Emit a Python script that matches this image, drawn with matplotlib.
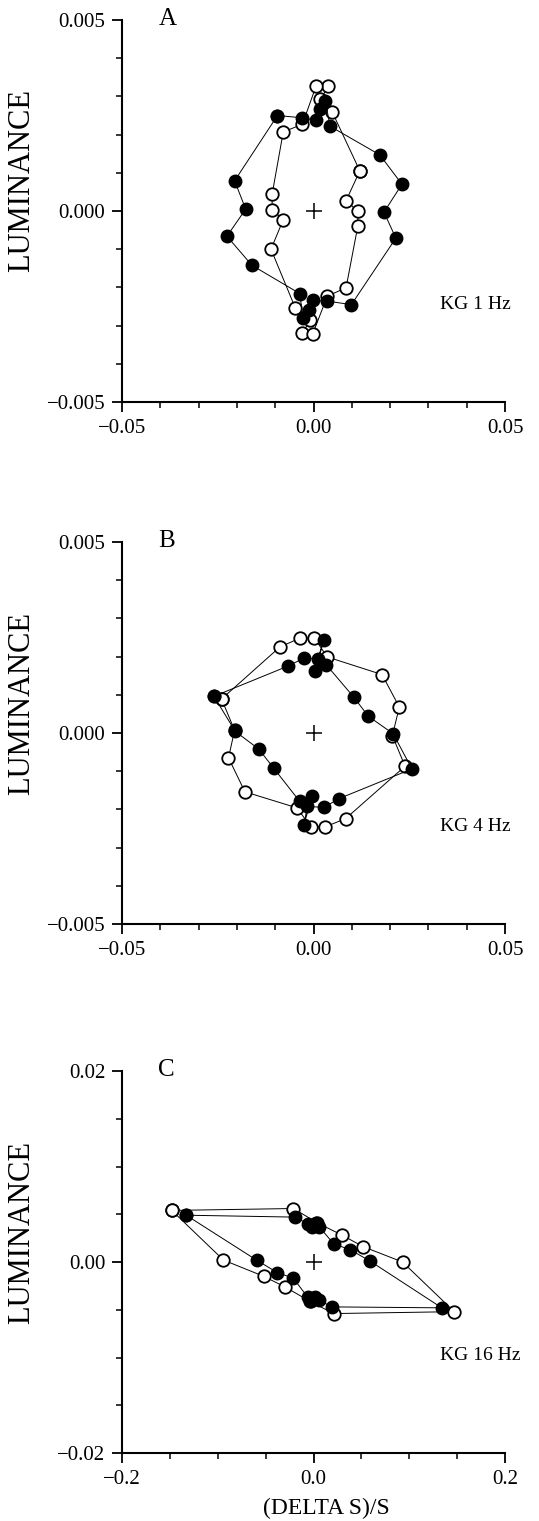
import numpy as np
import matplotlib
matplotlib.use("Agg")
import matplotlib.pyplot as plt
from matplotlib.ticker import MultipleLocator, FuncFormatter

plt.rcParams['font.family'] = ['Liberation Serif', 'DejaVu Serif']

# panel A, 1 Hz: filled and open loops, (delta S)/S vs luminance
a_filled_x = [-0.0094, -0.0030, 0.0006, 0.0018, 0.0031, 0.0043, 0.0173, 0.0231, 0.0184, 0.0215,
              0.0099, 0.0036, -0.0002, -0.0013, -0.0027, -0.0036, -0.0161, -0.0226, -0.0177, -0.0206]
a_filled_y = [0.00250, 0.00244, 0.00238, 0.00266, 0.00289, 0.00222, 0.00147, 0.00070, -0.00003, -0.00071,
              -0.00245, -0.00236, -0.00234, -0.00260, -0.00281, -0.00216, -0.00142, -0.00066, 0.00005, 0.00079]
a_open_x = [0.0121, 0.0049, 0.0018, 0.0038, 0.0007, -0.0029, -0.0079, -0.0108, -0.0108, -0.0079,
            -0.0111, -0.0047, -0.0009, -0.0029, -0.0002, 0.0036, 0.0085, 0.0116, 0.0116, 0.0085]
a_open_y = [0.00105, 0.00259, 0.00292, 0.00326, 0.00328, 0.00227, 0.00207, 0.00044, 0.00003, -0.00023,
            -0.00100, -0.00255, -0.00286, -0.00320, -0.00322, -0.00223, -0.00201, -0.00038, -0.00001, 0.00027]

# panel B, 4 Hz
b_filled_x = [-0.0260, -0.0067, -0.0025, 0.0011, 0.0027, 0.0004, 0.0033, 0.0105, 0.0143, 0.0208,
              0.0257, 0.0066, 0.0027, -0.0016, -0.0025, -0.0003, -0.0036, -0.0104, -0.0143, -0.0204]
b_filled_y = [0.00096, 0.00175, 0.00196, 0.00194, 0.00243, 0.00161, 0.00179, 0.00094, 0.00044, -0.00002,
              -0.00094, -0.00172, -0.00195, -0.00192, -0.00240, -0.00164, -0.00179, -0.00092, -0.00042, 0.00004]
b_open_x = [-0.0240, -0.0088, -0.0034, 0.0002, 0.0036, 0.0179, 0.0224, 0.0206,
            0.0239, 0.0084, 0.0030, -0.0007, -0.0043, -0.0179, -0.0222, -0.0206]
b_open_y = [0.00089, 0.00225, 0.00249, 0.00249, 0.00199, 0.00153, 0.00068, -0.00007,
            -0.00087, -0.00224, -0.00246, -0.00246, -0.00196, -0.00154, -0.00065, 0.00007]

# panel C, 16 Hz
c_filled_x = [-0.133, -0.019, -0.006, -0.002, 0.003, 0.006, 0.021, 0.038, 0.059,
              0.134, 0.019, 0.006, 0.002, -0.003, -0.006, -0.021, -0.038, -0.0595]
c_filled_y = [0.0049, 0.0047, 0.0040, 0.0037, 0.0041, 0.0037, 0.0019, 0.0013, 0.0001,
              -0.0048, -0.0047, -0.0040, -0.0037, -0.0041, -0.0037, -0.0017, -0.0011, 0.0002]
c_open_x = [-0.148, -0.021, 0.004, 0.030, 0.052, 0.093,
            0.147, 0.021, -0.004, -0.030, -0.052, -0.094]
c_open_y = [0.0054, 0.0056, 0.0041, 0.0028, 0.0016, 0.0000,
            -0.0052, -0.0054, -0.0041, -0.0026, -0.0015, 0.0002]

panels = [
    ("A", "KG 1 Hz", a_filled_x, a_filled_y, a_open_x, a_open_y),
    ("B", "KG 4 Hz", b_filled_x, b_filled_y, b_open_x, b_open_y),
    ("C", "KG 16 Hz", c_filled_x, c_filled_y, c_open_x, c_open_y),
]

W, H = 539, 1521
fig = plt.figure(figsize=(W / 100, H / 100), dpi=100)

# axes boxes in pixels: left, top, right, bottom
boxes = [(122, 20, 505, 402), (122, 542, 505, 924), (122, 1071, 505, 1453)]


def minus(fmt):
    return FuncFormatter(lambda v, pos: (fmt % v).replace('-', '\u2212') if abs(v) > 1e-12 else fmt % 0)


def closed(v):
    return np.append(v, v[0])


for i, (letter, tag, fx, fy, ox, oy) in enumerate(panels):
    l, t, r, b = boxes[i]
    ax = fig.add_axes([l / W, 1 - b / H, (r - l) / W, (b - t) / H])
    for s in ['top', 'right']:
        ax.spines[s].set_visible(False)
    for s in ['left', 'bottom']:
        ax.spines[s].set_linewidth(1.5)

    ax.plot(closed(ox), closed(oy), color='black', lw=0.7, marker='o', ms=9,
            mfc='white', mec='black', mew=1.3, zorder=3)
    ax.plot(closed(fx), closed(fy), color='black', lw=0.7, marker='o', ms=9,
            mfc='black', mec='black', mew=1.0, zorder=4)
    ax.plot([0], [0], marker='+', ms=11, mew=1.1, color='black', zorder=5)

    if i < 2:
        xlim, ylim = 0.05, 0.005
        ax.xaxis.set_major_locator(MultipleLocator(0.05))
        ax.xaxis.set_minor_locator(MultipleLocator(0.01))
        ax.yaxis.set_major_locator(MultipleLocator(0.005))
        ax.yaxis.set_minor_locator(MultipleLocator(0.001))
        ax.xaxis.set_major_formatter(minus('%.2f'))
        ax.yaxis.set_major_formatter(minus('%.3f'))
    else:
        xlim, ylim = 0.2, 0.02
        ax.xaxis.set_major_locator(MultipleLocator(0.2))
        ax.xaxis.set_minor_locator(MultipleLocator(0.05))
        ax.yaxis.set_major_locator(MultipleLocator(0.02))
        ax.yaxis.set_minor_locator(MultipleLocator(0.005))
        ax.xaxis.set_major_formatter(minus('%.1f'))
        ax.yaxis.set_major_formatter(minus('%.2f'))
    ax.set_xlim(-xlim, xlim)
    ax.set_ylim(-ylim, ylim)

    ax.tick_params(which='major', direction='out', length=7, width=1.3, labelsize=15, pad=5)
    ax.tick_params(which='minor', direction='out', length=4, width=1.1)

    ax.text(-0.81 * xlim, 1.005 * ylim, letter, fontsize=18, ha='left', va='center')
    ax.text(0.66 * xlim, -0.49 * ylim, tag, fontsize=14, ha='left', va='center', clip_on=False)

    # y label sits a little above the middle of the axis
    fig.text(22 / W, 1 - ((t + b) / 2 - 30) / H, "LUMINANCE", rotation=90, fontsize=22,
             ha='center', va='center')

fig.text(326 / W, 1 - 1508 / H, "(DELTA S)/S", fontsize=17, ha='center', va='center')

fig.savefig("out.png", dpi=100, facecolor='white')
